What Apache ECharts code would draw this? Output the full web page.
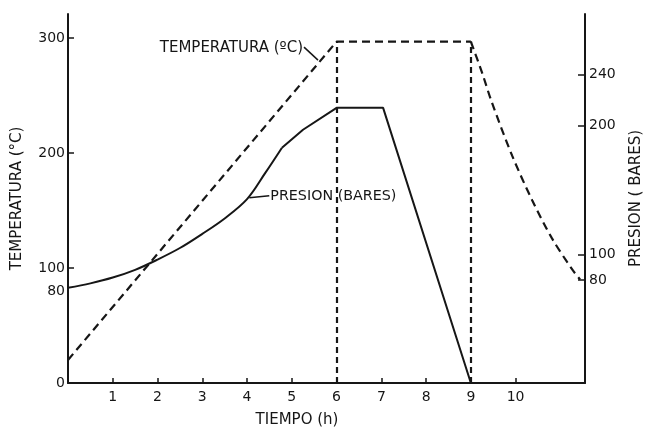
<!DOCTYPE html>
<html>
<head>
<meta charset="utf-8">
<script src="https://cdn.jsdelivr.net/npm/echarts@6/dist/echarts.min.js"></script>
<style>
  html, body { margin: 0; padding: 0; background: #ffffff; }
  #chart { width: 652px; height: 428px; }
</style>
</head>
<body>
<div id="chart"></div>
<script>
// Ciclo de autoclave: temperatura (°C) y presión (bares) frente al tiempo (h)

// Temperatura: subida lineal, meseta entre 6 h y 9 h, enfriamiento
const tempHoras   = [0, 6, 9, 9.25, 9.47, 9.92, 10.37, 10.81, 11.26, 11.44];
const tempValores = [20, 297, 297, 270, 244, 198, 159, 126, 99, 90];
const tempInicioEnfriamiento = 2;   // índice desde el que la curva es suave

// Presión (eje derecho)
const presHoras   = [0, 0.5, 1, 1.5, 2, 2.5, 3, 3.5, 4, 4.4, 4.78, 5.25, 6, 7.04, 9];
const presValores = [74, 77.5, 82, 88, 96, 105, 116, 128, 143, 163, 183, 197, 214, 214, 0];
const presFinCurva = 10;            // índice hasta el que la curva es suave

// Verticales de trazos al inicio y fin de la meseta
const cortesHoras = [6, 9];
const mesetaTemp = 297;

// Marcas de los ejes
const horasMarcas = [1, 2, 3, 4, 5, 6, 7, 8, 9, 10];
const tempMarcas = [0, 80, 100, 200, 300];
const tempTicks = [100, 200, 300];
const presMarcas = [80, 100, 200, 240];

const INK = '#161616';
const FONT = 'DejaVu Sans';
const DASH = [8, 5];

const chart = echarts.init(document.getElementById('chart'), null, { renderer: 'canvas' });

const toPairs = (xs, ys) => xs.map((x, i) => [x, ys[i]]);
const tempPuntos = toPairs(tempHoras, tempValores);
const presPuntos = toPairs(presHoras, presValores);

const tempLinea = { color: INK, width: 2.2, type: DASH };
const presLinea = { color: INK, width: 2 };

chart.setOption({
  backgroundColor: '#ffffff',
  animation: false,
  grid: { left: 68, right: 67, top: 14, bottom: 45, containLabel: false, outerBoundsMode: 'none' },
  xAxis: {
    type: 'value', min: 0, max: 11.55,
    name: 'TIEMPO (h)', nameLocation: 'middle', nameGap: 30,
    nameTextStyle: { color: INK, fontFamily: FONT, fontSize: 15, padding: [0, 59, 0, 0] },
    axisLine: { show: true, onZero: false, lineStyle: { color: INK, width: 2 } },
    axisTick: { show: true, inside: true, length: 5, customValues: horasMarcas, lineStyle: { color: INK, width: 1.5 } },
    axisLabel: { customValues: horasMarcas, color: INK, fontFamily: FONT, fontSize: 14, margin: 7 },
    splitLine: { show: false }
  },
  yAxis: [
    {
      type: 'value', min: 0, max: 321, position: 'left',
      name: 'TEMPERATURA (°C)', nameLocation: 'middle', nameGap: 43, nameRotate: 90,
      nameTextStyle: { color: INK, fontFamily: FONT, fontSize: 15 },
      axisLine: { show: true, onZero: false, lineStyle: { color: INK, width: 2 } },
      axisTick: { show: true, inside: true, length: 6, customValues: tempTicks, lineStyle: { color: INK, width: 1.5 } },
      axisLabel: { customValues: tempMarcas, color: INK, fontFamily: FONT, fontSize: 14, margin: 3 },
      splitLine: { show: false }
    },
    {
      type: 'value', min: 0, max: 287, position: 'right',
      name: 'PRESION ( BARES)', nameLocation: 'middle', nameGap: 44, nameRotate: 90,
      nameTextStyle: { color: INK, fontFamily: FONT, fontSize: 15 },
      axisLine: { show: true, onZero: false, lineStyle: { color: INK, width: 2 } },
      axisTick: { show: true, inside: true, length: 7, customValues: presMarcas, lineStyle: { color: INK, width: 1.5 } },
      axisLabel: { customValues: presMarcas, color: INK, fontFamily: FONT, fontSize: 14, margin: 4 },
      splitLine: { show: false }
    }
  ],
  series: [
    {
      name: 'Temperatura', type: 'line', yAxisIndex: 0,
      data: tempPuntos.slice(0, tempInicioEnfriamiento + 1),
      symbol: 'none', smooth: false, lineStyle: tempLinea,
      markLine: {
        silent: true, symbol: 'none', label: { show: false },
        lineStyle: { color: INK, width: 2.2, type: [6, 4] },
        data: cortesHoras.map(h => [{ coord: [h, 0] }, { coord: [h, mesetaTemp] }])
      },
      z: 3
    },
    {
      name: 'Temperatura (enfriamiento)', type: 'line', yAxisIndex: 0,
      data: tempPuntos.slice(tempInicioEnfriamiento),
      symbol: 'none', smooth: 0.3, lineStyle: tempLinea,
      z: 3
    },
    {
      name: 'Presion', type: 'line', yAxisIndex: 1,
      data: presPuntos.slice(0, presFinCurva + 1),
      symbol: 'none', smooth: 0.35, lineStyle: presLinea,
      z: 4
    },
    {
      name: 'Presion (tramo recto)', type: 'line', yAxisIndex: 1,
      data: presPuntos.slice(presFinCurva),
      symbol: 'none', smooth: false, lineStyle: presLinea,
      z: 4
    }
  ]
});

// Rótulos con línea de referencia anclados a cada curva
const rotulos = [
  { texto: 'TEMPERATURA (ºC)', hora: 5.63, valor: 280, eje: 0, lado: 'izq', tam: 15 },
  { texto: 'PRESION (BARES)', hora: 4.05, valor: 144, eje: 1, lado: 'der', tam: 14.3 }
];

const graficos = [];
rotulos.forEach(r => {
  const p = chart.convertToPixel({ xAxisIndex: 0, yAxisIndex: r.eje }, [r.hora, r.valor]);
  const fuente = r.tam + 'px "' + FONT + '"';
  if (r.lado === 'izq') {
    const ex = p[0] - 16, ey = p[1] - 14;
    graficos.push({
      type: 'polyline', silent: true,
      shape: { points: [[ex, ey], [p[0] - 2, p[1] - 1]] },
      style: { stroke: INK, lineWidth: 1.5, fill: null }
    });
    graficos.push({
      type: 'text', silent: true, x: ex - 1, y: ey + 1,
      style: { text: r.texto, fill: INK, font: fuente, align: 'right', verticalAlign: 'middle' }
    });
  } else {
    const ex = p[0] + 20;
    graficos.push({
      type: 'polyline', silent: true,
      shape: { points: [[p[0], p[1]], [ex, p[1] - 2]] },
      style: { stroke: INK, lineWidth: 1.5, fill: null }
    });
    graficos.push({
      type: 'text', silent: true, x: ex + 1, y: p[1] - 2,
      style: { text: r.texto, fill: INK, font: fuente, align: 'left', verticalAlign: 'middle' }
    });
  }
});
chart.setOption({ graphic: graficos });
</script>
</body>
</html>
